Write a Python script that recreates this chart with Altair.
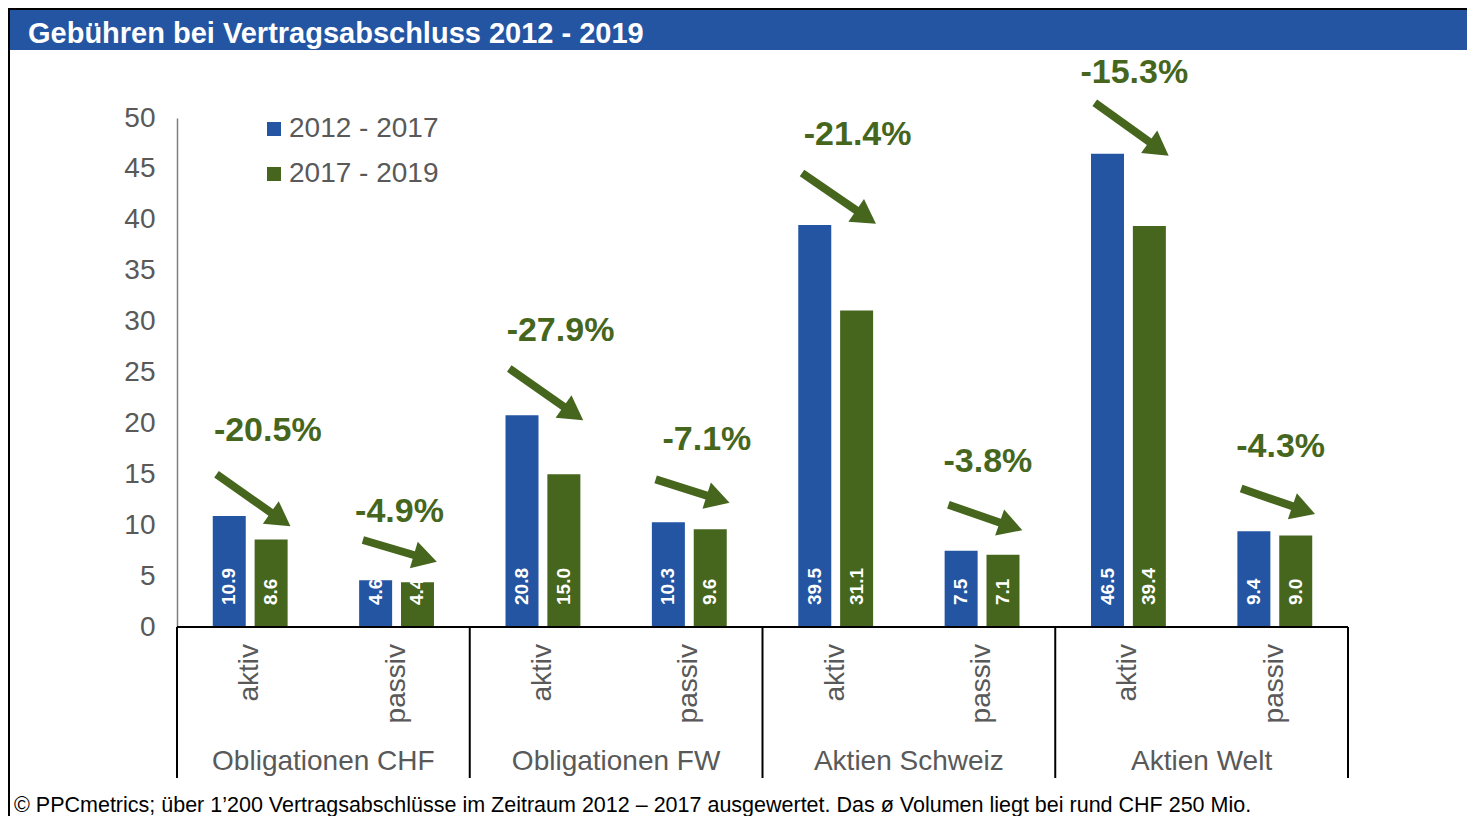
import math
import altair as alt
import pandas as pd

# ---------------- data ----------------
groups = ["Obligationen CHF", "Obligationen FW", "Aktien Schweiz", "Aktien Welt"]
styles = ["aktiv", "passiv"]
series = ["2012 - 2017", "2017 - 2019"]
v_2012_2017 = [10.9, 4.6, 20.8, 10.3, 39.5, 7.5, 46.5, 9.4]
v_2017_2019 = [8.6, 4.4, 15.0, 9.6, 31.1, 7.1, 39.4, 9.0]
changes = ["-20.5%", "-4.9%", "-27.9%", "-7.1%", "-21.4%", "-3.8%", "-15.3%", "-4.3%"]
# annotation anchors (data units)
change_x = [0.62, 1.52, 2.62, 3.62, 4.65, 5.54, 6.54, 7.54]
change_y = [19.3, 11.3, 29.1, 18.4, 48.3, 16.2, 54.4, 17.7]
arrow_y_start = [15.0, 8.55, 25.4, 14.5, 44.6, 12.0, 51.5, 13.6]
arrow_y_end = [9.9, 6.4, 20.3, 12.2, 39.6, 9.5, 46.3, 11.1]
y_ticks = [0, 5, 10, 15, 20, 25, 30, 35, 40, 45, 50]
title_text = "Gebühren bei Vertragsabschluss 2012 - 2019"
footnote = ("© PPCmetrics; über 1’200 Vertragsabschlüsse im Zeitraum 2012 – 2017 "
            "ausgewertet. Das ø Volumen liegt bei rund CHF 250 Mio.")

# ---------------- layout / style ----------------
W, H = 1171, 509
NSLOT = 8
YMAX = 50
PX_X = W / NSLOT
PX_Y = H / YMAX
BLUE = "#2455a3"
GREEN = "#46661e"
GRAY = "#595959"
FONT = "Liberation Sans"
BAR_OFF = 0.143
HEAD_LEN = 24.0

slots = [(g, s) for g in groups for s in styles]

bar_rows = []
for i, (g, s) in enumerate(slots):
    for k, (name, vals) in enumerate(zip(series, [v_2012_2017, v_2017_2019])):
        bar_rows.append({
            "pos": i + 0.5 + (BAR_OFF if k else -BAR_OFF),
            "value": vals[i],
            "series": name,
            "label": f"{vals[i]:.1f}",
            "zero": 0,
        })
bars_df = pd.DataFrame(bar_rows)

cat_df = pd.DataFrame({"pos": [i + 0.5 for i in range(NSLOT)],
                       "style": [s for _, s in slots], "zero": 0})
grp_df = pd.DataFrame({"pos": [2 * j + 1 for j in range(len(groups))],
                       "group": groups, "zero": 0})
sep_df = pd.DataFrame({"pos": [2 * j for j in range(len(groups) + 1)]})
base_df = pd.DataFrame({"x0": [0], "x1": [NSLOT], "zero": [0]})

arr_rows = []
for i in range(NSLOT):
    x0, x1 = i + 0.27, i + 0.775
    y0, y1 = arrow_y_start[i], arrow_y_end[i]
    dxp = (x1 - x0) * PX_X
    dyp = (y0 - y1) * PX_Y
    L = math.hypot(dxp, dyp)
    ang = math.degrees(math.atan2(dyp, dxp))
    sx = x1 - (HEAD_LEN - 6) * dxp / L / PX_X
    sy = y1 + (HEAD_LEN - 6) * dyp / L / PX_Y
    arr_rows.append({"x0": x0, "y0": y0, "sx": sx, "sy": sy,
                     "x1": x1, "y1": y1, "ang": ang,
                     "txt": changes[i], "tx": change_x[i], "ty": change_y[i]})
arr_df = pd.DataFrame(arr_rows)

deco = pd.DataFrame({"k": [0]})

xs = alt.Scale(domain=[0, NSLOT], nice=False, zero=False, padding=0)
ys = alt.Scale(domain=[0, YMAX], nice=False)

bars = alt.Chart(bars_df).mark_bar(size=33).encode(
    x=alt.X("pos:Q", scale=xs, axis=None),
    y=alt.Y("value:Q", scale=ys,
            axis=alt.Axis(values=y_ticks, title=None, ticks=False, grid=False,
                          labelFontSize=28, labelColor=GRAY, labelFont=FONT,
                          labelPadding=22, domainColor="#7f7f7f", domainWidth=1.5)),
    color=alt.Color("series:N", scale=alt.Scale(domain=series, range=[BLUE, GREEN]),
                    legend=alt.Legend(orient="none", legendX=83, legendY=-3, title=None,
                                      symbolType="square", symbolSize=196,
                                      symbolStrokeWidth=0, labelFontSize=28,
                                      labelColor=GRAY, labelFont=FONT, labelOffset=1,
                                      rowPadding=17, padding=0)),
)

bar_labels = alt.Chart(bars_df).mark_text(
    angle=270, align="left", baseline="middle", dx=22, fontSize=19,
    fontWeight="bold", color="white", font=FONT
).encode(x="pos:Q", y=alt.Y("zero:Q", scale=ys), text="label:N")

cat_labels = alt.Chart(cat_df).mark_text(
    angle=270, align="right", baseline="middle", dx=-17, fontSize=28,
    color=GRAY, font=FONT
).encode(x="pos:Q", y=alt.Y("zero:Q", scale=ys), text="style:N")

grp_labels = alt.Chart(grp_df).mark_text(
    baseline="middle", dy=135, fontSize=28, color=GRAY, font=FONT
).encode(x="pos:Q", y=alt.Y("zero:Q", scale=ys), text="group:N")

seps = alt.Chart(sep_df).mark_rule(color="black", strokeWidth=2).encode(
    x="pos:Q", y=alt.value(H), y2=alt.value(H + 151))

baseline = alt.Chart(base_df).mark_rule(color="black", strokeWidth=2).encode(
    x="x0:Q", x2="x1:Q", y=alt.Y("zero:Q", scale=ys))

shafts = alt.Chart(arr_df).mark_rule(color=GREEN, strokeWidth=8, strokeCap="butt").encode(
    x="x0:Q", y=alt.Y("y0:Q", scale=ys), x2="sx:Q", y2="sy:Q")

heads = alt.Chart(arr_df).mark_point(
    shape="M0,0L-2,-1.15L-2,1.15Z", filled=True, color=GREEN, opacity=1,
    size=HEAD_LEN ** 2, strokeWidth=0
).encode(x="x1:Q", y=alt.Y("y1:Q", scale=ys), angle=alt.Angle("ang:Q", scale=None))

change_txt = alt.Chart(arr_df).mark_text(
    fontSize=34, fontWeight="bold", color=GREEN, font=FONT, baseline="middle"
).encode(x="tx:Q", y=alt.Y("ty:Q", scale=ys), text="txt:N")

title_bar = alt.Chart(deco).mark_rect(color=BLUE).encode(
    x=alt.value(-168), x2=alt.value(W + 130), y=alt.value(-110), y2=alt.value(-68))
top_line = alt.Chart(deco).mark_rule(color="black", strokeWidth=2).encode(
    x=alt.value(-168), x2=alt.value(W + 130), y=alt.value(-109))
left_line = alt.Chart(deco).mark_rule(color="black", strokeWidth=2).encode(
    x=alt.value(-168), y=alt.value(-110), y2=alt.value(H + 200))
title = alt.Chart(deco).mark_text(
    align="left", baseline="middle", fontSize=29, fontWeight="bold", color="white", font=FONT
).encode(x=alt.value(-149), y=alt.value(-84), text=alt.value(title_text))
foot = alt.Chart(deco).mark_text(
    align="left", baseline="alphabetic", fontSize=21.5, color="black", font=FONT
).encode(x=alt.value(-163), y=alt.value(H + 185), text=alt.value(footnote))

chart = alt.layer(
    title_bar, top_line, left_line, title,
    bars, bar_labels, baseline, seps, cat_labels, grp_labels,
    shafts, heads, change_txt, foot
).properties(
    width=W, height=H,
    autosize=alt.AutoSizeParams(type="none"),
    padding={"left": 169, "top": 110, "right": 119, "bottom": 189},
).configure_view(stroke=None)

chart.save("out.html", embed_options={"renderer": "svg", "actions": False})
